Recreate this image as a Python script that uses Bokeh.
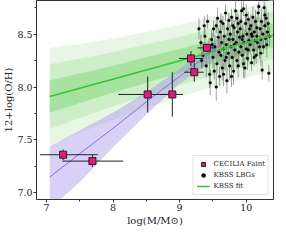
from bokeh.plotting import figure
from bokeh.models import Range1d, FixedTicker, Legend, LegendItem, PrintfTickFormatter
from bokeh.embed import file_html
from bokeh.resources import INLINE

# ---------------- data ----------------
# KBSS fit line and its 1-sigma widths (bands drawn at 1,2,3 sigma)
fit_x = [7.05, 10.4]
fit_y = [7.91, 8.49]
band_x = [7.05, 7.5, 8.0, 8.5, 9.0, 9.5, 10.0, 10.4]
band_mid = [7.91, 7.988, 8.074, 8.161, 8.247, 8.334, 8.420, 8.490]
band_sig = [0.153, 0.140, 0.128, 0.120, 0.114, 0.111, 0.111, 0.113]

# CECILIA faint fit (purple) line and band
pur_x = [7.05, 7.5, 8.0, 8.5, 9.0, 9.62]
pur_y = [7.15, 7.37, 7.61, 7.86, 8.10, 8.40]
pur_lo = [6.85, 7.10, 7.43, 7.74, 8.03, 8.30]
pur_hi = [7.44, 7.59, 7.76, 7.95, 8.17, 8.48]

# CECILIA Faint points
cec_x = [7.25, 7.69, 8.52, 8.89, 9.17, 9.22, 9.41]
cec_y = [7.36, 7.30, 7.93, 7.93, 8.27, 8.14, 8.37]
cec_xlo = [0.35, 0.45, 0.44, 0.16, 0.18, 0.15, 0.14]
cec_xhi = [0.52, 0.46, 0.44, 0.16, 0.18, 0.14, 0.12]
cec_yerr = [0.05, 0.055, 0.17, 0.21, 0.07, 0.09, 0.04]

# KBSS LBGs
kbss_x = [
    9.29, 9.32, 9.35, 9.38, 9.40, 9.42, 9.44, 9.45, 9.33, 9.37,
    9.46, 9.48, 9.50, 9.51, 9.53, 9.55, 9.55, 9.56, 9.58, 9.59, 9.52, 9.57, 9.49, 9.60,
    9.61, 9.62, 9.63, 9.64, 9.65, 9.66, 9.67, 9.68, 9.69, 9.70, 9.71, 9.72, 9.73, 9.74, 9.75, 9.62, 9.66, 9.70, 9.74,
    9.76, 9.77, 9.78, 9.79, 9.80, 9.81, 9.82, 9.83, 9.84, 9.85, 9.86, 9.87, 9.88, 9.89, 9.90, 9.78, 9.82, 9.86, 9.80, 9.88,
    9.91, 9.92, 9.93, 9.94, 9.95, 9.96, 9.97, 9.98, 9.99, 10.00, 10.01, 10.02, 10.03, 10.04, 10.05, 9.92, 9.96, 10.00, 10.03, 9.94,
    10.06, 10.07, 10.08, 10.09, 10.10, 10.11, 10.12, 10.13, 10.14, 10.15, 10.16, 10.17, 10.18, 10.19, 10.20, 10.08, 10.12, 10.16,
    10.21, 10.22, 10.23, 10.24, 10.25, 10.26, 10.27, 10.28, 10.29, 10.30, 10.31, 10.32, 10.34, 10.33, 10.35, 10.22, 10.28,
]
kbss_y = [
    8.55, 8.42, 8.30, 8.48, 8.20, 8.62, 8.36, 8.12, 8.25, 8.58,
    8.04, 8.45, 8.28, 8.55, 8.38, 8.00, 8.58, 8.22, 8.47, 8.33, 8.15, 8.65, 8.40, 8.10,
    8.52, 8.30, 8.42, 8.18, 8.60, 8.36, 8.48, 8.25, 8.70, 8.40, 8.06, 8.55, 8.32, 8.45, 8.20, 8.62, 8.12, 8.28, 8.63,
    8.50, 8.38, 8.66, 8.28, 8.45, 8.15, 8.56, 8.35, 8.72, 8.42, 8.25, 8.52, 8.60, 8.33, 8.47, 8.10, 8.40, 8.65, 8.58, 8.20,
    8.55, 8.38, 8.72, 8.30, 8.48, 8.74, 8.42, 8.18, 8.60, 8.36, 8.50, 8.27, 8.64, 8.44, 8.55, 8.62, 8.22, 8.68, 8.35, 8.45,
    8.40, 8.58, 8.23, 8.48, 8.66, 8.35, 8.52, 8.44, 8.62, 8.30, 8.56, 8.42, 8.70, 8.76, 8.38, 8.50, 8.28, 8.48,
    8.55, 8.45, 8.62, 8.16, 8.50, 8.38, 8.75, 8.58, 8.46, 8.65, 8.40, 8.52, 8.13, 8.60, 8.48, 8.32, 8.68,
]
kbss_yerr = [
    0.10, 0.08, 0.12, 0.09, 0.11, 0.07, 0.10, 0.13, 0.08, 0.09,
    0.12, 0.09, 0.10, 0.08, 0.11, 0.13, 0.07, 0.10, 0.09, 0.12, 0.08, 0.10, 0.11, 0.09,
    0.08, 0.11, 0.09, 0.12, 0.07, 0.10, 0.13, 0.09, 0.08, 0.11, 0.12, 0.07, 0.10, 0.09, 0.13, 0.08, 0.11, 0.10, 0.07,
    0.09, 0.12, 0.08, 0.10, 0.11, 0.13, 0.07, 0.09, 0.10, 0.12, 0.08, 0.11, 0.09, 0.13, 0.07, 0.10, 0.12, 0.08, 0.09, 0.11,
    0.10, 0.08, 0.09, 0.12, 0.11, 0.07, 0.13, 0.10, 0.08, 0.09, 0.12, 0.11, 0.07, 0.10, 0.09, 0.08, 0.13, 0.10, 0.11, 0.12,
    0.09, 0.11, 0.08, 0.12, 0.10, 0.07, 0.13, 0.09, 0.11, 0.08, 0.10, 0.12, 0.09, 0.07, 0.11, 0.10, 0.08, 0.12,
    0.10, 0.08, 0.12, 0.09, 0.11, 0.07, 0.10, 0.13, 0.08, 0.09, 0.12, 0.10, 0.08, 0.11, 0.09, 0.12, 0.10,
]
kbss_xerr = 0.02

x_ticks = [7, 8, 9, 10]
x_minor = [7.5, 8.5, 9.5]
y_ticks = [7.0, 7.5, 8.0, 8.5]
y_minor = [7.25, 7.75, 8.25, 8.75]

# ---------------- figure ----------------
FONT = "DejaVu Serif"
p = figure(width=274, height=232, output_backend="svg", toolbar_location=None,
           x_range=Range1d(6.85, 10.41), y_range=Range1d(6.937, 8.818),
           min_border_left=29, min_border_right=1, min_border_top=0, min_border_bottom=33)
p.grid.visible = False
p.outline_line_color = "#333333"
p.outline_line_width = 1

# green bands
for k, col in [(3, "#e8f6e6"), (2, "#cdeec8"), (1, "#a6e2a0")]:
    lo = [m - k * s for m, s in zip(band_mid, band_sig)]
    hi = [m + k * s for m, s in zip(band_mid, band_sig)]
    p.varea(x=band_x, y1=lo, y2=hi, fill_color=col, fill_alpha=1.0)

# purple band + line
p.varea(x=pur_x, y1=pur_lo, y2=pur_hi, fill_color="#a08ae8", fill_alpha=0.4)
p.line(pur_x, pur_y, line_color="#8a6be0", line_width=1)

# KBSS LBGs
p.segment(x0=kbss_x, y0=[y - e for y, e in zip(kbss_y, kbss_yerr)],
          x1=kbss_x, y1=[y + e for y, e in zip(kbss_y, kbss_yerr)],
          line_color="#7a7a7a", line_width=0.9, line_alpha=0.8)
p.segment(x0=[x - kbss_xerr for x in kbss_x], y0=kbss_y,
          x1=[x + kbss_xerr for x in kbss_x], y1=kbss_y,
          line_color="#7a7a7a", line_width=0.9, line_alpha=0.8)
r_kbss = p.scatter(kbss_x, kbss_y, marker="circle", size=2.6, fill_color="black", line_color="black",
                   line_width=0.5)

# KBSS fit line
r_fit = p.line(fit_x, fit_y, line_color="#33c633", line_width=1.5)

# CECILIA faint
p.segment(x0=[x - a for x, a in zip(cec_x, cec_xlo)], y0=cec_y,
          x1=[x + b for x, b in zip(cec_x, cec_xhi)], y1=cec_y,
          line_color="#222222", line_width=1)
p.segment(x0=cec_x, y0=[y - e for y, e in zip(cec_y, cec_yerr)],
          x1=cec_x, y1=[y + e for y, e in zip(cec_y, cec_yerr)],
          line_color="#222222", line_width=1)
r_cec = p.scatter(cec_x, cec_y, marker="square", size=7, fill_color="#e6177f",
                  line_color="#222222", line_width=1)

# axes
for ax in (p.xaxis[0], p.yaxis[0]):
    ax.axis_label_text_font = FONT
    ax.axis_label_text_font_size = "10px"
    ax.axis_label_text_font_style = "normal"
    ax.axis_label_text_color = "#222222"
    ax.major_label_text_font = FONT
    ax.major_label_text_font_size = "9.5px"
    ax.major_label_text_color = "#222222"
    ax.major_tick_in = 0
    ax.major_tick_out = 3
    ax.minor_tick_in = 0
    ax.minor_tick_out = 2
    ax.major_label_standoff = 1
    ax.axis_label_standoff = 1
    ax.axis_line_color = "#333333"
    ax.major_tick_line_color = "#333333"
    ax.minor_tick_line_color = "#333333"

p.xaxis.ticker = FixedTicker(ticks=x_ticks, minor_ticks=x_minor)
p.yaxis.ticker = FixedTicker(ticks=y_ticks, minor_ticks=y_minor)
p.yaxis.formatter = PrintfTickFormatter(format="%.1f")
p.xaxis.axis_label = "log(M/M\u2299)"
p.yaxis.axis_label = "12+log(O/H)"
p.yaxis.axis_label_standoff = 0

legend = Legend(items=[
    LegendItem(label="CECILIA Faint", renderers=[r_cec]),
    LegendItem(label="KBSS LBGs", renderers=[r_kbss]),
    LegendItem(label="KBSS fit", renderers=[r_fit]),
], location="bottom_right")
legend.label_text_font = FONT
legend.label_text_font_size = "7px"
legend.label_text_color = "#222222"
legend.glyph_width = 13
legend.glyph_height = 10
legend.label_height = 10
legend.label_standoff = 4
legend.spacing = 1
legend.padding = 3
legend.margin = 4
legend.border_line_color = "#cccccc"
legend.background_fill_alpha = 0.85
p.add_layout(legend)

open("out.html", "w").write(file_html(p, INLINE))
